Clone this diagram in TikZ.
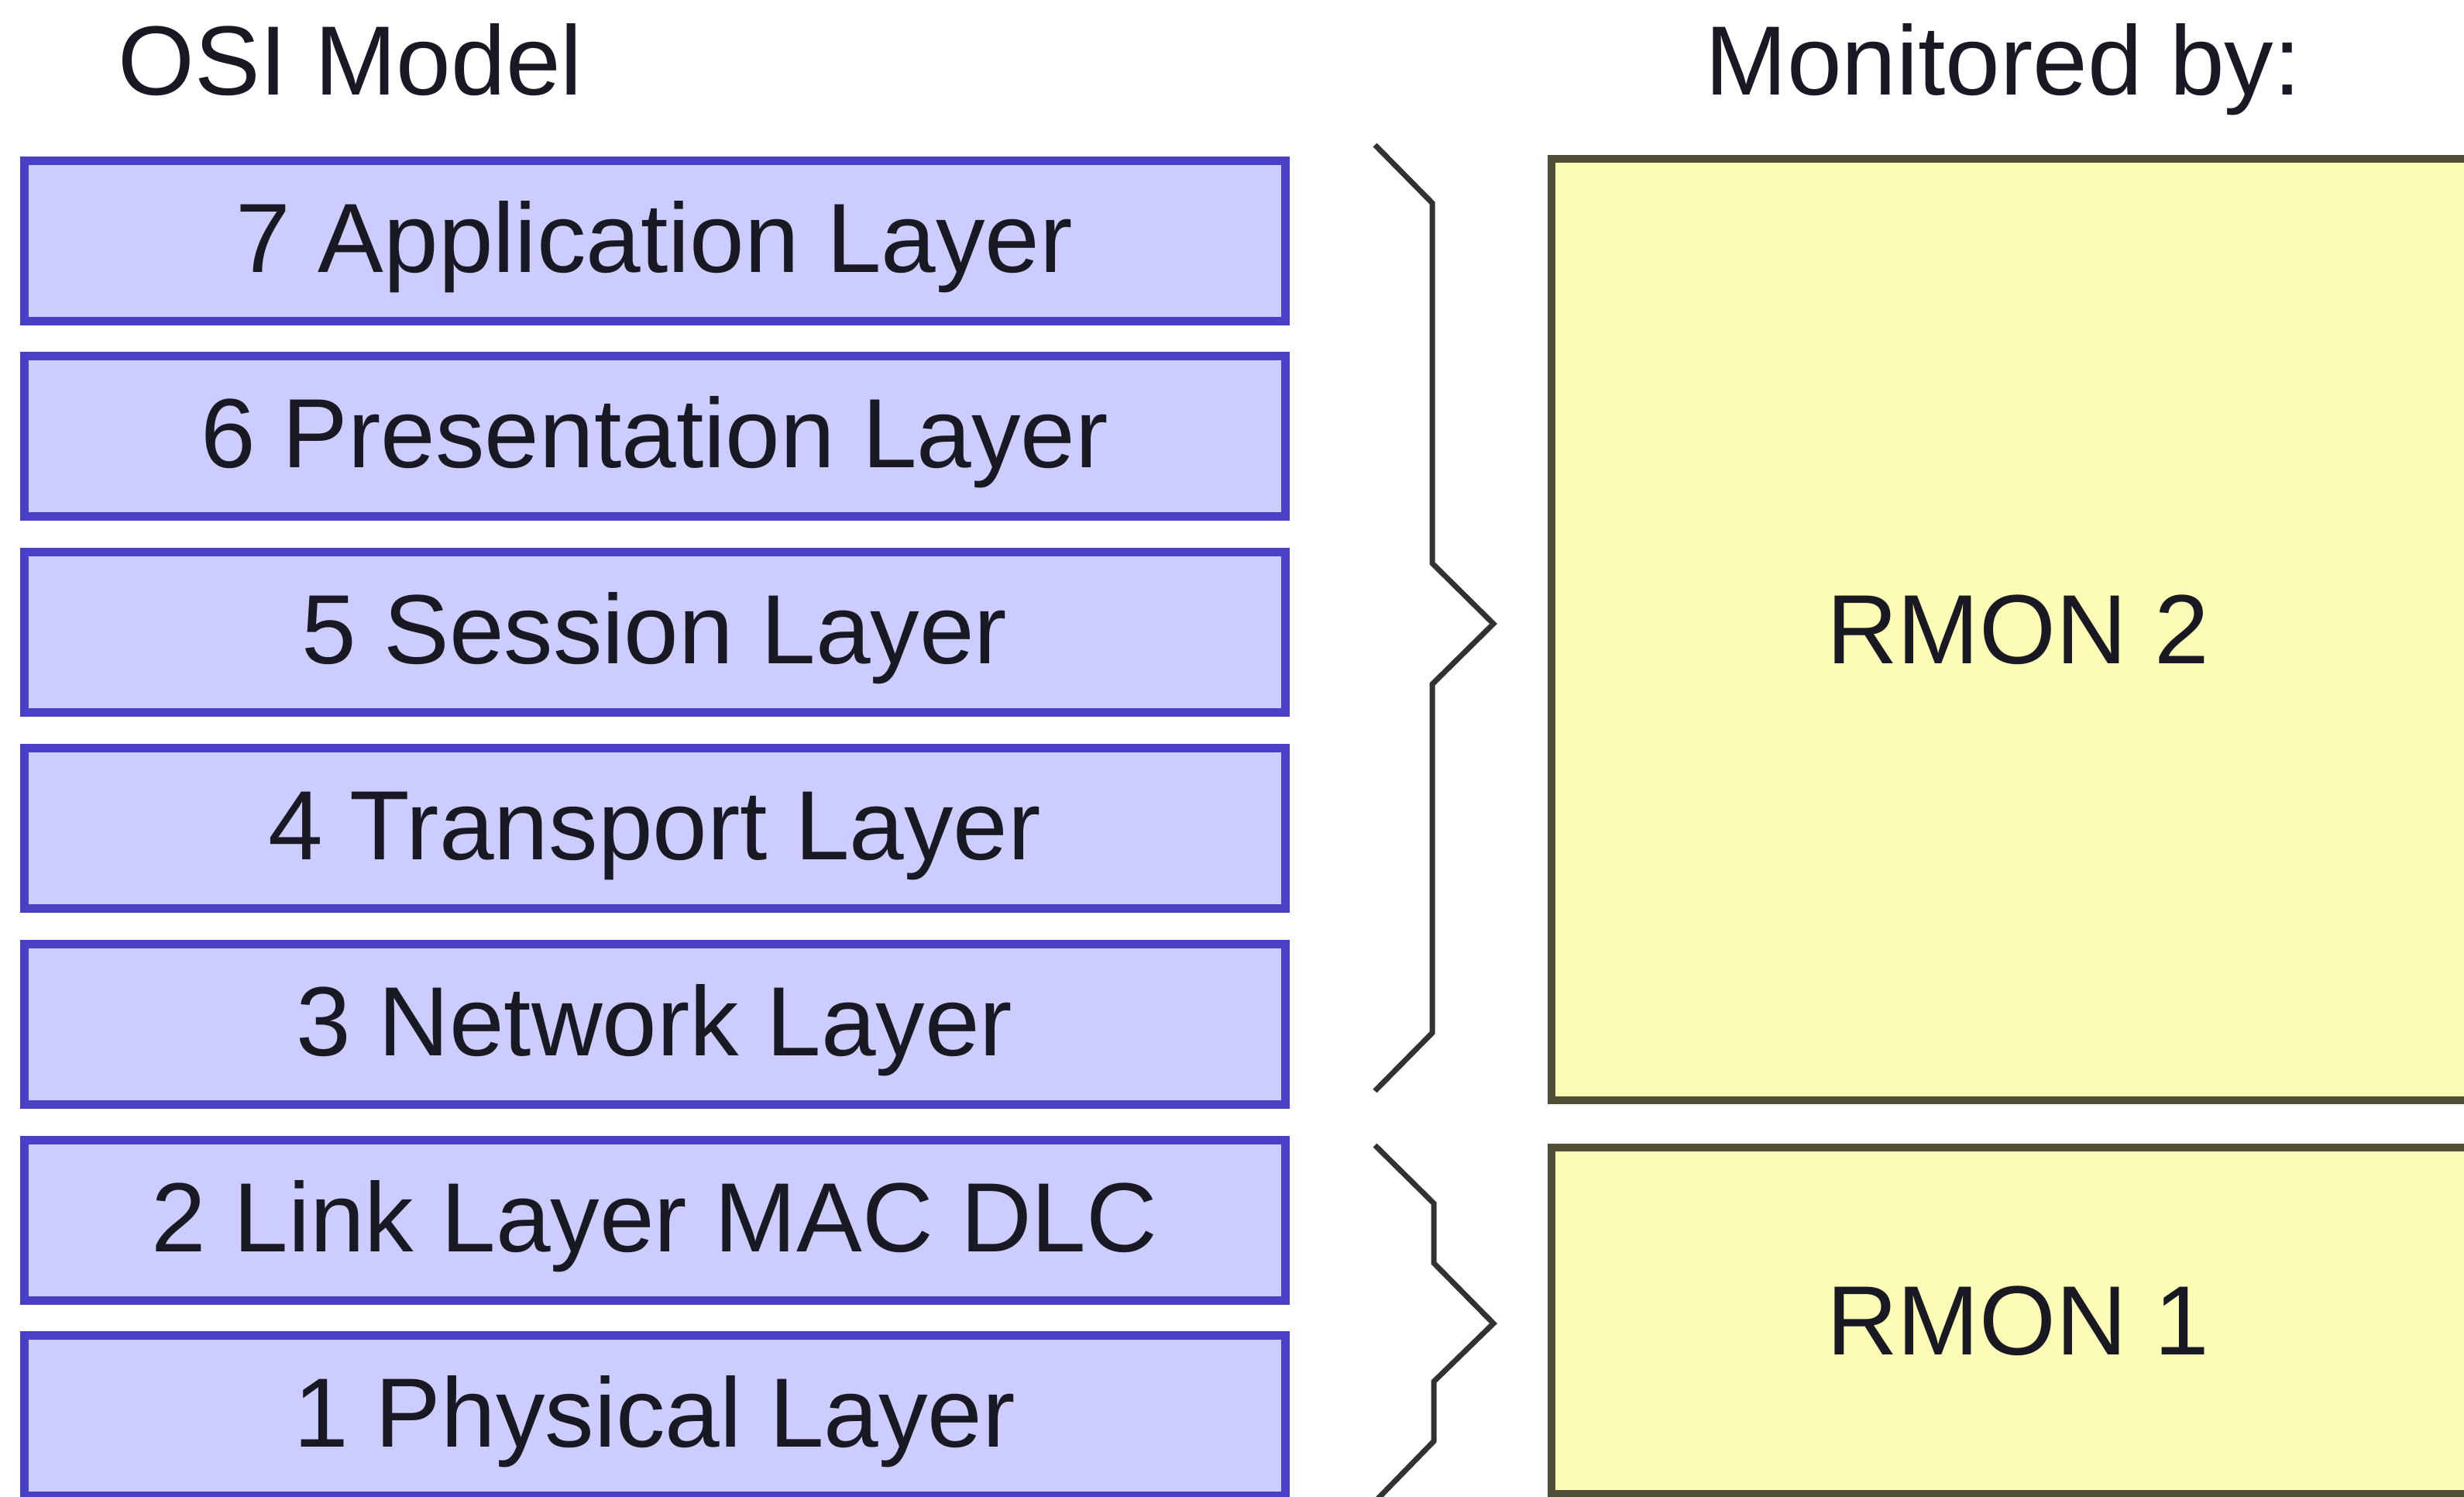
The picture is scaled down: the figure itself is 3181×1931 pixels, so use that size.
\documentclass[tikz,border=0pt]{standalone}
\usepackage{fontspec}
\setmainfont{Liberation Sans}
\definecolor{layerfill}{RGB}{204,204,255}
\definecolor{layerline}{RGB}{74,64,200}
\definecolor{rmonfill}{RGB}{252,252,182}
\definecolor{rmonline}{RGB}{80,78,55}
\definecolor{bracecol}{RGB}{50,50,50}
\definecolor{txt}{RGB}{25,25,35}
\begin{document}
\begin{tikzpicture}[x=1pt,y=-1pt,
  every node/.style={font=\fontsize{127}{150}\selectfont, text=txt},
  layer/.style={draw=layerline, fill=layerfill, line width=11pt, inner sep=0pt,
    minimum width=1628pt, minimum height=207pt, text height=91pt, text depth=10pt},
  rmon/.style={draw=rmonline, fill=rmonfill, line width=10pt, inner sep=0pt,
    minimum width=1204pt, text height=91pt, text depth=4pt},
  header/.style={anchor=base west, inner sep=0pt},
  brace/.style={draw=bracecol, line width=7pt, line join=miter}]
\useasboundingbox (0,0) rectangle (3181,1931);
\clip (0,0) rectangle (3181,1931);
\fill[white] (0,0) rectangle (3181,1931);

\node[header] (osi) at (152,122) {OSI Model};
\node[header] (mon) at (2201,122) {Monitored by:};

\node[layer] (l7) at (845,310.5) {7 Application Layer};
\node[layer] (l6) at (845,563.3) {6 Presentation Layer};
\node[layer] (l5) at (845,816.1) {5 Session Layer};
\node[layer] (l4) at (845,1068.9) {4 Transport Layer};
\node[layer] (l3) at (845,1321.7) {3 Network Layer};
\node[layer] (l2) at (845,1574.5) {2 Link Layer MAC DLC};
\node[layer] (l1) at (845,1827.3) {1 Physical Layer};

\node[rmon, minimum height=1215pt] (r2) at (2605,812.5) {RMON 2};
\node[rmon, minimum height=447pt] (r1) at (2605,1704.5) {RMON 1};

\draw[brace] (1775,187) -- (1849,262) -- (1849,727) -- (1928,805)
  -- (1849,883) -- (1849,1333) -- (1775,1408);
\draw[brace] (1775,1478) -- (1851,1553) -- (1851,1630) -- (1928,1708)
  -- (1851,1783) -- (1851,1860) -- (1777,1936);
\end{tikzpicture}
\end{document}
